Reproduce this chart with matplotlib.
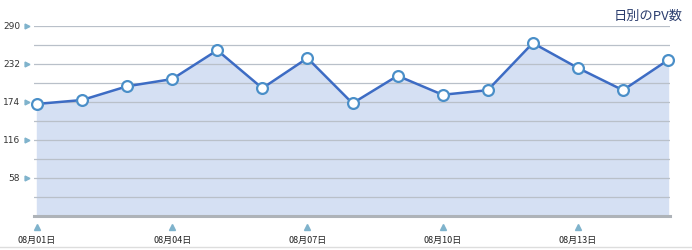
import matplotlib.pyplot as plt
from matplotlib.lines import Line2D
import matplotlib.transforms as mtransforms

plt.rcParams['font.family'] = ['Noto Sans CJK JP', 'DejaVu Sans']

days = ["08月01日", "08月02日", "08月03日", "08月04日", "08月05日", "08月06日", "08月07日",
        "08月08日", "08月09日", "08月10日", "08月11日", "08月12日", "08月13日", "08月14日",
        "08月15日"]
pv = [171, 177, 198, 209, 253, 195, 241, 172, 214, 185, 192, 264, 226, 192, 238]
y_ticks = [58, 116, 174, 232, 290]

fig = plt.figure(figsize=(6.92, 2.51), dpi=100)
ax = fig.add_axes([0.0491, 0.1355, 0.9191, 0.757])

x = list(range(len(days)))
ax.fill_between(x, pv, 0, color='#d5e0f3', zorder=1)
ax.plot(x, pv, color='#3d6cc4', lw=1.8, zorder=3)
ax.plot(x, pv, 'o', ms=7.8, mfc='white', mec='#4a8fc8', mew=1.6, zorder=4, clip_on=False)

ax.set_xlim(-0.067, 14.044)
ax.set_ylim(0, 290)

# grid lines (major + half steps)
for v in range(29, 291, 29):
    ax.axhline(v, color='#b9c0c9', lw=0.9, zorder=2)
ax.axhline(0, color='#aeb3b8', lw=2.2, zorder=2, clip_on=False)

for s in ax.spines.values():
    s.set_visible(False)
ax.set_xticks([])
ax.set_yticks([])

# y labels with small triangles
tr_y = mtransforms.blended_transform_factory(fig.transFigure, ax.transData)
for v in y_ticks:
    fig.text(20 / 692, v, str(v), transform=tr_y, ha='right', va='center',
             fontsize=6.5, color='#333333', family='DejaVu Sans')
    fig.add_artist(Line2D([27 / 692], [v], transform=tr_y, marker='>', ms=3.5,
                          color='#7fb3cc', ls='none'))

# x labels every 3 days
tr_x = mtransforms.blended_transform_factory(ax.transData, fig.transFigure)
for i in range(0, len(days), 3):
    fig.add_artist(Line2D([i], [1 - 228 / 251], transform=tr_x, marker='^', ms=4.5,
                          color='#7fb3cc', ls='none'))
    fig.text(i, 1 - 240 / 251, days[i], transform=tr_x, ha='center', va='center',
             fontsize=6.5, color='#222222')

fig.text(683 / 692, 1 - 16 / 251, "日別のPV数", ha='right', va='center',
         fontsize=9.5, color='#2b3d6e')

fig.add_artist(Line2D([0, 1], [1 - 248 / 251] * 2, transform=fig.transFigure,
                      color='#dddddd', lw=1))

fig.savefig('out.png', dpi=100)
